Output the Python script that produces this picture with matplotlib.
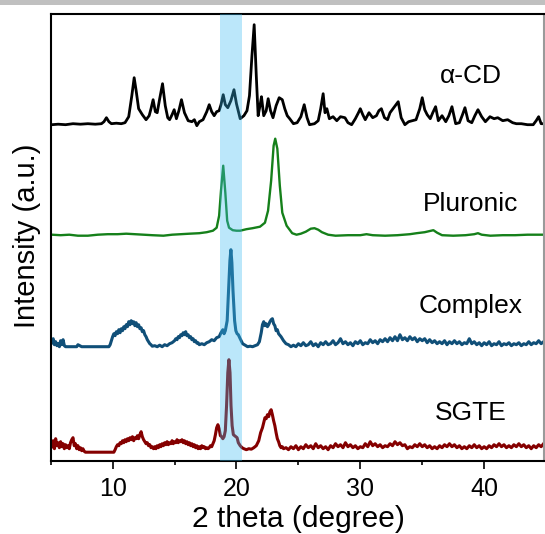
import matplotlib
matplotlib.use("Agg")
import matplotlib.pyplot as plt
from matplotlib.patches import Rectangle
from matplotlib.ticker import MultipleLocator

plt.rcParams['font.family'] = ['Liberation Sans', 'DejaVu Sans']

# ---- diffraction patterns (2theta in degree, stacked intensity in a.u.) ----
acd_x = [5.1, 5.6, 6.2, 6.8, 7.4, 8.0, 8.6, 9.1, 9.3, 9.5, 9.7, 9.9, 10.3, 10.7, 11.0, 11.3,
         11.55, 11.74, 11.9, 12.1, 12.4, 12.7, 12.95, 13.1, 13.27, 13.45, 13.6, 13.8, 14.03,
         14.25, 14.45, 14.6, 14.8, 14.97, 15.15, 15.35, 15.56, 15.8, 16.1, 16.4, 16.6, 16.8,
         17.0, 17.3, 17.6, 17.8, 18.0, 18.2, 18.4, 18.6, 18.75, 18.93, 19.1, 19.3, 19.55, 19.8,
         20.0, 20.3, 20.6, 20.85, 21.05, 21.25, 21.43, 21.6, 21.75, 21.9, 22.02, 22.2, 22.4,
         22.56, 22.75, 22.95, 23.2, 23.45, 23.7, 23.9, 24.1, 24.3, 24.6, 24.9, 25.2, 25.47,
         25.7, 25.9, 26.3, 26.6, 26.8, 27.0, 27.15, 27.3, 27.5, 27.8, 28.1, 28.4, 28.76, 29.0,
         29.3, 29.6, 29.85, 30.0, 30.2, 30.4, 30.7, 31.0, 31.3, 31.5, 31.7, 31.95, 32.2, 32.4,
         32.7, 33.06, 33.3, 33.6, 33.9, 34.2, 34.5, 34.8, 35.0, 35.2, 35.4, 35.65, 35.85, 36.08,
         36.3, 36.6, 36.9, 37.15, 37.4, 37.7, 38.0, 38.25, 38.45, 38.7, 39.0, 39.25, 39.5, 39.8,
         40.1, 40.47, 40.8, 41.1, 41.5, 41.9, 42.3, 42.6, 43.0, 43.5, 43.96, 44.2, 44.4, 44.6, 44.8]
acd_y = [336, 336.5, 336, 337, 336.5, 337, 336.5, 337, 339, 343, 339, 337, 337.5, 337, 338, 344,
         365, 383, 370, 352, 346, 341, 345, 352, 361, 349, 348, 362, 377,
         355, 343, 341, 346, 351, 342, 350, 361, 348, 340, 339, 341, 335,
         339, 341, 349, 356, 349, 345, 349, 350, 356, 366, 356, 353, 360, 371,
         357, 342, 345, 350, 365, 405, 436, 385, 345, 355, 364, 345, 350,
         362, 350, 343, 355, 363, 361, 352, 345, 342, 337, 338, 344, 356,
         343, 336, 337, 340, 352, 367, 348, 352, 342, 344, 340, 344, 343, 338,
         336, 342, 348, 352, 346, 341, 348, 343, 345, 350, 352, 343, 341, 348,
         353, 359, 343, 336, 339, 340, 341, 352, 363, 351, 346, 342, 348, 354,
         340, 345, 339, 345, 354, 337, 338, 346, 353, 340, 338, 345, 351, 344,
         339, 344, 342, 343, 340, 341, 338, 337, 337, 336, 336, 340, 344, 337, 337]

pluronic_x = [5.1, 5.8, 6.5, 7.2, 8.0, 8.8, 9.6, 10.4, 11.1, 11.8, 12.5, 13.2, 14.1, 14.8, 15.5,
              16.2, 17.0, 17.6, 18.1, 18.4, 18.6, 18.75, 18.93, 19.1, 19.25, 19.4, 19.7, 20.0,
              20.3, 20.8, 21.3, 21.9, 22.3, 22.55, 22.8, 23.0, 23.13, 23.3, 23.5, 23.7, 24.05,
              24.5, 24.85, 25.2, 25.6, 26.0, 26.3, 26.6, 26.9, 27.4, 28.0, 29.0, 30.0, 30.5,
              31.0, 32.0, 33.0, 34.0, 34.55, 35.2, 35.9, 36.2, 36.6, 37.5, 38.5, 39.2, 39.5,
              39.8, 40.5, 41.5, 42.5, 43.5, 44.8]
pluronic_y = [226, 225.5, 226, 225, 225, 226, 226.5, 226.5, 227, 226.5, 226, 225.5, 225, 226, 226.5,
              227, 227.5, 228.5, 230, 233, 245, 270, 295, 268, 240, 233, 230.5, 230,
              230, 231.5, 232.5, 234, 238, 250, 280, 315, 322, 312, 275, 248, 235,
              227.5, 226, 227, 229, 232, 232.5, 231, 228.5, 226, 225, 225.5, 225.5, 226.5,
              225.5, 225, 225.5, 226.5, 227.5, 228.5, 230.5, 228, 225.5, 225, 225.5, 226.5, 227.5,
              226, 225, 225.5, 225.5, 226, 226]

complex_x = [5.1, 5.2, 5.3, 5.4, 5.5, 5.6, 5.7, 5.8, 5.9, 6.0, 6.1, 6.2, 6.3, 7.1, 7.2, 7.35, 7.5,
             9.7, 9.8, 9.9, 10.0,
             10.1, 10.2, 10.3, 10.4, 10.5, 10.6, 10.7, 10.8, 10.9, 11.0, 11.1, 11.2, 11.3, 11.4,
             11.5, 11.6, 11.7, 11.8, 11.9, 12.0, 12.1, 12.2, 12.3, 12.4, 12.5, 12.6, 12.7, 12.8,
             12.9, 13.0, 13.1, 13.2,
             13.4, 13.6, 13.8, 14.0, 14.2, 14.4, 14.6, 14.8, 15.0,
             15.1, 15.2, 15.3, 15.4, 15.5, 15.6, 15.7, 15.8, 15.9, 16.0, 16.1, 16.2, 16.3, 16.4,
             16.5, 16.6, 16.7, 16.8, 16.9, 17.0,
             17.2, 17.4, 17.6, 17.8, 18.0, 18.2, 18.4, 18.6, 18.75, 18.9, 19.0, 19.1, 19.25,
             19.38, 19.47, 19.55, 19.63, 19.72, 19.85, 19.95, 20.05, 20.15, 20.3, 20.5, 20.7,
             20.9, 21.1, 21.3, 21.5, 21.7, 21.85, 22.0,
             22.1, 22.2, 22.3, 22.4, 22.5, 22.6, 22.7, 22.8, 22.9, 23.0, 23.1, 23.2, 23.3, 23.4,
             23.6, 23.8, 24.0, 24.2, 24.4, 24.6,
             24.8, 25.0, 25.2, 25.4, 25.6, 25.8, 26.0, 26.2, 26.4, 26.6, 26.8, 27.0, 27.2, 27.4,
             27.6, 27.8, 28.0, 28.2, 28.4, 28.6, 28.8, 29.0, 29.2, 29.4, 29.6, 29.8, 30.0, 30.2,
             30.4, 30.6, 30.8, 31.0, 31.2, 31.4, 31.6, 31.8, 32.0, 32.2, 32.4, 32.6, 32.8, 33.0,
             33.2, 33.4, 33.6, 33.8, 34.0, 34.2, 34.4, 34.6, 34.8, 35.0, 35.2, 35.4, 35.6, 35.8,
             36.0, 36.2, 36.4, 36.6, 36.8, 37.0, 37.2, 37.4, 37.6, 37.8, 38.0, 38.2, 38.4, 38.6,
             38.8, 39.0, 39.2, 39.4, 39.6, 39.8, 40.0, 40.2, 40.4, 40.6, 40.8, 41.0, 41.2, 41.4,
             41.6, 41.8, 42.0, 42.2, 42.4, 42.6, 42.8, 43.0, 43.2, 43.4, 43.6, 43.8, 44.0, 44.2,
             44.4, 44.6, 44.8]
complex_y = [118, 122, 116, 119, 115, 117, 114, 120, 116, 121, 115, 114, 114, 114, 116, 115, 114,
             114, 116, 120, 124,
             127, 125, 129, 127, 131, 128, 132, 130, 134, 132, 136, 134, 139, 136,
             140, 137, 139, 135, 138, 134, 136, 132, 133, 129, 130, 126, 124, 121,
             119, 117, 116, 114.5,
             115, 114, 115.5, 114, 116, 115, 117, 118, 120,
             122, 121, 124, 123, 126, 125, 128, 126, 129, 125, 126, 123, 124, 121,
             122, 119, 120, 117.5, 118, 116,
             117, 116, 118, 119, 121, 120, 123, 124, 128, 131, 127, 130, 140,
             175, 200, 211, 198, 170, 140, 130, 127, 126, 122, 117, 115.5,
             114, 114.5, 114, 115, 116, 119, 128,
             136, 139, 135, 137, 134, 136, 139, 141, 142, 137, 135, 130, 131, 127,
             124, 120, 117, 116, 114, 115.5,
             114, 117, 115, 118, 115, 116, 119, 115, 117, 114, 118, 116, 119, 116,
             117, 120, 116, 118, 122, 117, 119, 116, 118, 115, 119, 117, 120, 116,
             118, 117, 121, 118, 120, 117, 121, 119, 122, 119, 123, 120, 124, 120,
             126, 121, 123, 120, 124, 121, 123, 119, 122, 120, 122, 118, 121, 118,
             120, 117, 119, 117, 120, 116, 119, 117, 120, 117, 119, 116, 118, 117,
             122, 117, 119, 116, 118, 115, 118, 116, 119, 115, 117, 116, 119, 115,
             117, 116, 118, 115, 117, 116, 118, 115, 117, 116, 119, 116, 118, 117,
             120, 117, 119]

sgte_x = [5.1, 5.2, 5.3, 5.4, 5.5, 5.6, 5.7, 5.8, 5.9, 6.0, 6.1, 6.2, 6.3, 6.4, 6.5, 6.6, 6.7,
          6.8, 6.9, 7.0, 7.1, 7.2, 7.3, 7.4, 7.5, 7.6, 7.7, 7.8, 10.1,
          10.2, 10.3, 10.4, 10.5, 10.6, 10.7, 10.8, 10.9, 11.0, 11.1, 11.2, 11.3, 11.4, 11.5,
          11.6, 11.7, 11.8, 11.9, 12.0, 12.1, 12.2, 12.3, 12.4, 12.5, 12.6, 12.7, 12.8, 12.9,
          13.0, 13.1, 13.2, 13.3, 13.4, 13.5, 13.6, 13.7, 13.8, 13.9, 14.0, 14.1, 14.2, 14.3,
          14.4, 14.5, 14.6, 14.7, 14.8, 14.9, 15.0, 15.1, 15.2, 15.3, 15.4, 15.5, 15.6, 15.7,
          15.8, 15.9, 16.0, 16.1, 16.2, 16.3, 16.4, 16.5, 16.6, 16.7, 16.8, 16.9, 17.0, 17.1,
          17.2, 17.3, 17.4, 17.5, 17.6, 17.7, 17.8, 17.9, 18.0, 18.1, 18.2, 18.3, 18.4, 18.5,
          18.6, 18.7, 18.8, 18.9, 19.0, 19.1, 19.2, 19.3, 19.39, 19.48, 19.56, 19.65, 19.75,
          19.85, 19.95, 20.05, 20.15, 20.3, 20.45, 20.6, 20.8, 21.0, 21.2, 21.4, 21.6, 21.8,
          21.95, 22.1, 22.2, 22.3, 22.4, 22.5, 22.6, 22.7, 22.8, 22.9, 23.0, 23.1, 23.2, 23.3,
          23.4, 23.5, 23.6, 23.7, 23.8, 24.0,
          24.2, 24.4, 24.6, 24.8, 25.0, 25.2, 25.4, 25.6, 25.8, 26.0, 26.2, 26.4, 26.6, 26.8,
          27.0, 27.2, 27.4, 27.6, 27.8, 28.0, 28.2, 28.4, 28.6, 28.8, 29.0, 29.2, 29.4, 29.6,
          29.8, 30.0, 30.2, 30.4, 30.6, 30.8, 31.0, 31.2, 31.4, 31.6, 31.8, 32.0, 32.2, 32.4,
          32.6, 32.8, 33.0, 33.2, 33.4, 33.6, 33.8, 34.0, 34.2, 34.4, 34.6, 34.8, 35.0, 35.2,
          35.4, 35.6, 35.8, 36.0, 36.2, 36.4, 36.6, 36.8, 37.0, 37.2, 37.4, 37.6, 37.8, 38.0,
          38.2, 38.4, 38.6, 38.8, 39.0, 39.2, 39.4, 39.6, 39.8, 40.0, 40.2, 40.4, 40.6, 40.8,
          41.0, 41.2, 41.4, 41.6, 41.8, 42.0, 42.2, 42.4, 42.6, 42.8, 43.0, 43.2, 43.4, 43.6,
          43.8, 44.0, 44.2, 44.4, 44.6, 44.8]
sgte_y = [14, 20, 12, 22, 15, 18, 13, 19, 14, 17, 12, 16, 13, 15, 12, 18, 21,
          23, 15, 17, 12, 15, 11, 13, 10, 12, 9.5, 8.5, 8.5,
          11, 14, 16, 15, 18, 17, 20, 18, 21, 19, 22, 20, 23, 21,
          24, 20, 23, 22, 25, 22, 26, 29, 24, 21, 19, 17, 18, 15,
          16, 13, 14, 12, 14, 12, 15, 13, 16, 14, 17, 15, 18, 16,
          19, 16, 18, 17, 20, 17, 19, 18, 21, 18, 20, 19, 21, 18,
          20, 17, 19, 16, 18, 15, 17, 14, 16, 13, 15, 12, 14, 12,
          15, 13, 14, 12, 13, 12, 13, 15, 14, 17, 20, 26, 33, 36,
          32, 25, 24, 22, 24, 30, 55, 88, 101, 88, 55, 35, 26,
          25, 24, 23, 18, 15, 13, 12, 11, 12, 11.5, 13, 15, 20,
          28, 33, 38, 43, 42, 46, 44, 49, 51, 46, 40, 35, 28, 22,
          19, 15, 13, 14, 12, 13,
          11, 14, 12, 15, 11, 14, 12, 16, 13, 15, 12, 17, 13, 15,
          12, 14, 11, 15, 13, 17, 14, 16, 13, 18, 14, 16, 13, 15,
          12, 14, 13, 17, 14, 19, 15, 17, 14, 16, 13, 15, 14, 17,
          15, 19, 16, 18, 15, 16, 12, 14, 13, 16, 14, 17, 14, 16,
          13, 15, 12, 14, 12, 15, 13, 16, 14, 17, 14, 16, 13, 15,
          12, 14, 12, 15, 13, 16, 13, 15, 12, 14, 12, 15, 13, 16,
          14, 17, 14, 16, 13, 15, 13, 16, 14, 17, 14, 16, 13, 15,
          12, 15, 13, 16, 14, 17]

series_names = ['\u03b1-CD', 'Pluronic', 'Complex', 'SGTE']
series_colors = ['#000000', '#15801a', '#104f78', '#850000']
series_widths = [2.0, 1.7, 2.2, 2.2]
label_x = 38.9
label_y = [377.4, 250.0, 147.4, 40.7]
band_range = (18.66, 20.41)

fig = plt.figure(figsize=(5.45, 5.34), dpi=100)
ax = fig.add_axes([50.7 / 545, 73.3 / 534, 492.9 / 545, 446.7 / 534])

traces = [(acd_x, acd_y), (pluronic_x, pluronic_y), (complex_x, complex_y), (sgte_x, sgte_y)]
for (xs, ys), color, lw in zip(traces, series_colors, series_widths):
    ax.plot(xs, ys, color=color, lw=lw, solid_joinstyle='round', zorder=2)

# highlighted 2theta window, drawn over the patterns
ax.axvspan(*band_range, color=(60 / 255, 189 / 255, 243 / 255), alpha=0.35, lw=0, zorder=3)

for name, yb in zip(series_names, label_y):
    ax.text(label_x, yb, name, ha='center', va='baseline', fontsize=19, zorder=4)

ax.set_xlim(5, 44.8)
ax.set_ylim(0, 446.7)
ax.xaxis.set_major_locator(MultipleLocator(10))
ax.xaxis.set_minor_locator(MultipleLocator(5))
ax.tick_params(axis='x', which='major', direction='out', length=6, width=1.2,
               labelsize=18, pad=6)
ax.tick_params(axis='x', which='minor', direction='out', length=3, width=1.2)
ax.set_yticks([])
for side in ['left', 'bottom', 'top', 'right']:
    ax.spines[side].set_linewidth(1.5)
ax.spines['right'].set_color('#9a9a9a')

ax.set_xlabel('2 theta (degree)', fontsize=21.5, va='baseline')
ax.xaxis.set_label_coords(298.5 / 545, 1 - 527.0 / 534, transform=fig.transFigure)
ax.set_ylabel('Intensity (a.u.)', fontsize=21, va='center')
ax.yaxis.set_label_coords(27.5 / 545, 1 - 236.0 / 534, transform=fig.transFigure)

# thin grey strip along the top edge
fig.patches.append(Rectangle((0, 1 - 4.5 / 534), 1, 4.5 / 534, transform=fig.transFigure,
                             facecolor='#c0c0c0', edgecolor='none', zorder=0))

fig.savefig('out.png', dpi=100)
